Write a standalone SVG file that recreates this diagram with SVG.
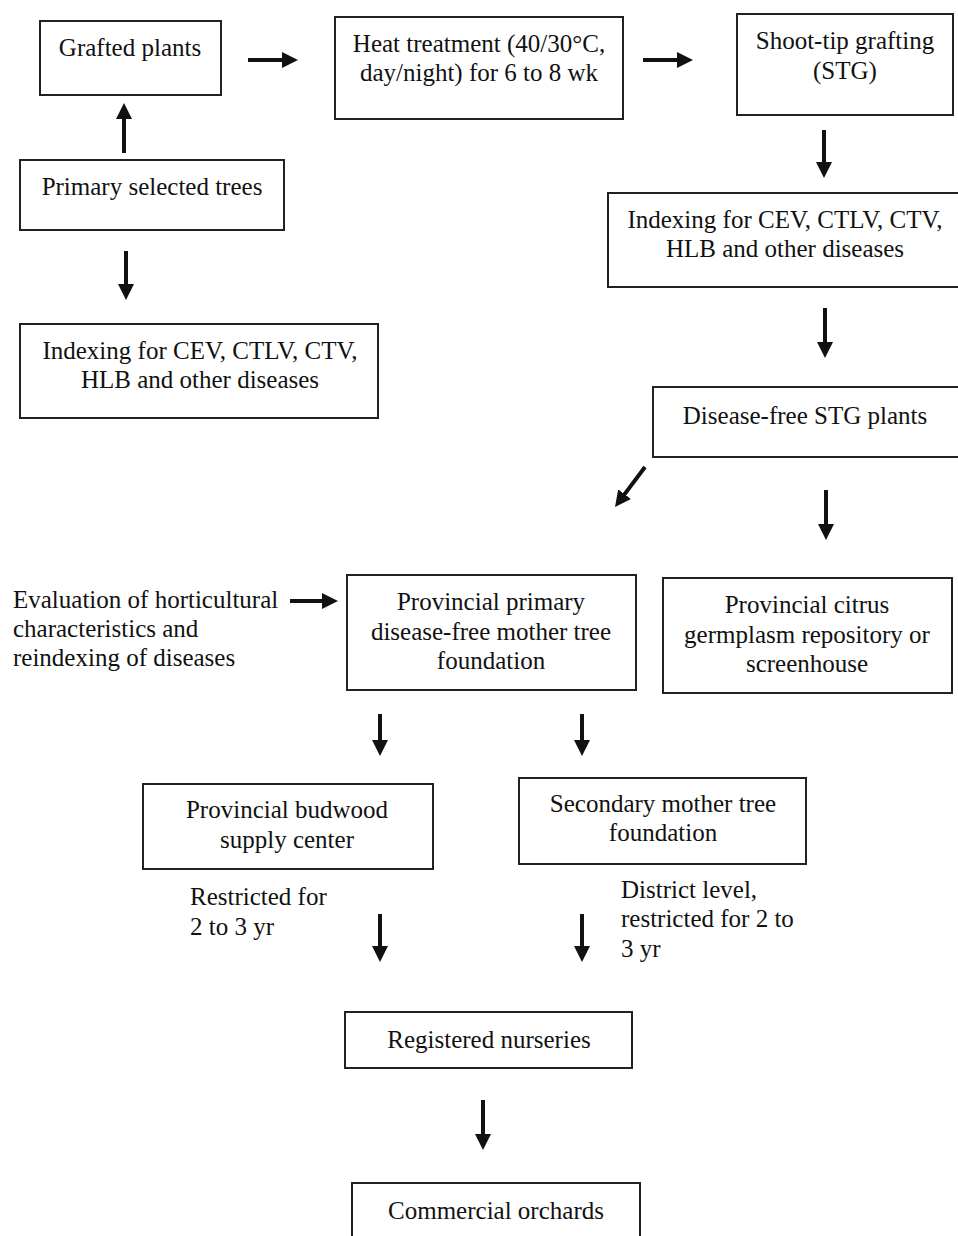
<svg xmlns="http://www.w3.org/2000/svg" width="958" height="1236" viewBox="0 0 958 1236">
<style>
.box{fill:#fff;stroke:#222;stroke-width:2}
.t{font-family:"Liberation Serif","Times New Roman",serif;font-size:25px;fill:#111;text-anchor:middle}
.tl{font-family:"Liberation Serif","Times New Roman",serif;font-size:25px;fill:#111;text-anchor:start}
.c{stroke:#111;stroke-width:4;fill:none;marker-end:url(#ah)}
</style>
<defs>
<marker id="ah" markerUnits="userSpaceOnUse" viewBox="0 0 16 16" markerWidth="16" markerHeight="16" refX="4" refY="8" orient="auto">
<path d="M0,0 L16,8 L0,16 z" fill="#111"/>
</marker>
</defs>
<rect width="958" height="1236" fill="#fff"/>
<g id="connectors">
<line class="c" x1="248" y1="60" x2="286" y2="60"/>
<line class="c" x1="643" y1="60" x2="681" y2="60"/>
<line class="c" x1="124" y1="153" x2="124" y2="115"/>
<line class="c" x1="824" y1="130" x2="824" y2="166"/>
<line class="c" x1="126" y1="251" x2="126" y2="288"/>
<line class="c" x1="825" y1="308" x2="825" y2="346"/>
<line class="c" x1="645" y1="467" x2="622.2" y2="497.4"/>
<line class="c" x1="826" y1="490" x2="826" y2="528"/>
<line class="c" x1="290" y1="601" x2="326" y2="601"/>
<line class="c" x1="380" y1="714" x2="380" y2="744"/>
<line class="c" x1="582" y1="714" x2="582" y2="744"/>
<line class="c" x1="380" y1="914" x2="380" y2="950"/>
<line class="c" x1="582" y1="914" x2="582" y2="950"/>
<line class="c" x1="483" y1="1100" x2="483" y2="1138"/>
</g>
<g id="grafted">
<rect class="box" x="40" y="21" width="181" height="74"/>
<text class="t" x="130" y="56">Grafted plants</text>
</g>
<g id="heat">
<rect class="box" x="335" y="17" width="288" height="102"/>
<text class="t" x="479" y="52">Heat treatment (40/30°C,</text>
<text class="t" x="479" y="81">day/night) for 6 to 8 wk</text>
</g>
<g id="stg">
<rect class="box" x="737" y="14" width="216" height="101"/>
<text class="t" x="845" y="49">Shoot-tip grafting</text>
<text class="t" x="845" y="79">(STG)</text>
</g>
<g id="primary">
<rect class="box" x="20" y="160" width="264" height="70"/>
<text class="t" x="152" y="195">Primary selected trees</text>
</g>
<g id="indexing-right">
<rect class="box" x="608" y="193" width="352" height="94"/>
<text class="t" x="785" y="228">Indexing for CEV, CTLV, CTV,</text>
<text class="t" x="785" y="257">HLB and other diseases</text>
</g>
<g id="indexing-left">
<rect class="box" x="20" y="324" width="358" height="94"/>
<text class="t" x="200" y="359">Indexing for CEV, CTLV, CTV,</text>
<text class="t" x="200" y="388">HLB and other diseases</text>
</g>
<g id="disease-free">
<rect class="box" x="653" y="387" width="307" height="70"/>
<text class="t" x="805" y="424">Disease-free STG plants</text>
</g>
<g id="evaluation">
<text class="tl" x="13" y="608">Evaluation of horticultural</text>
<text class="tl" x="13" y="637">characteristics and</text>
<text class="tl" x="13" y="666">reindexing of diseases</text>
</g>
<g id="provincial-primary">
<rect class="box" x="347" y="575" width="289" height="115"/>
<text class="t" x="491" y="610">Provincial primary</text>
<text class="t" x="491" y="640">disease-free mother tree</text>
<text class="t" x="491" y="669">foundation</text>
</g>
<g id="repository">
<rect class="box" x="663" y="578" width="289" height="115"/>
<text class="t" x="807" y="613">Provincial citrus</text>
<text class="t" x="807" y="643">germplasm repository or</text>
<text class="t" x="807" y="672">screenhouse</text>
</g>
<g id="budwood">
<rect class="box" x="143" y="784" width="290" height="85"/>
<text class="t" x="287" y="818">Provincial budwood</text>
<text class="t" x="287" y="848">supply center</text>
</g>
<g id="secondary">
<rect class="box" x="519" y="778" width="287" height="86"/>
<text class="t" x="663" y="812">Secondary mother tree</text>
<text class="t" x="663" y="841">foundation</text>
</g>
<g id="restricted-label">
<text class="tl" x="190" y="905">Restricted for</text>
<text class="tl" x="190" y="935">2 to 3 yr</text>
</g>
<g id="district-label">
<text class="tl" x="621" y="898">District level,</text>
<text class="tl" x="621" y="927">restricted for 2 to</text>
<text class="tl" x="621" y="957">3 yr</text>
</g>
<g id="nurseries">
<rect class="box" x="345" y="1012" width="287" height="56"/>
<text class="t" x="489" y="1048">Registered nurseries</text>
</g>
<g id="orchards">
<rect class="box" x="352" y="1183" width="288" height="70"/>
<text class="t" x="496" y="1219">Commercial orchards</text>
</g>
</svg>
